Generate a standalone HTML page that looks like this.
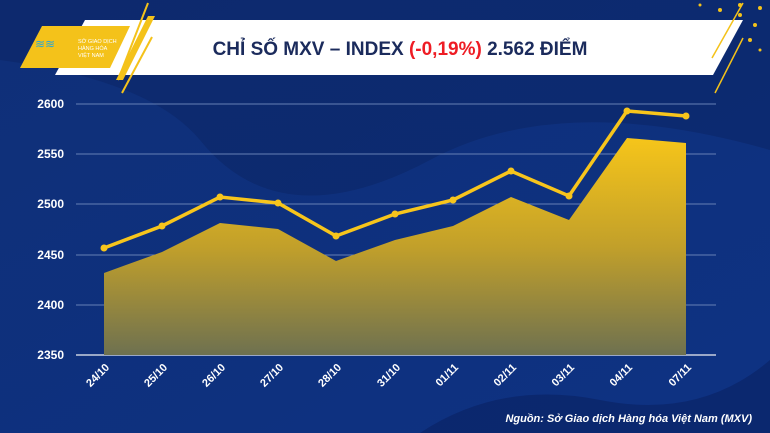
<!DOCTYPE html><html><head><meta charset="utf-8"><style>body{margin:0}svg{display:block}text{font-family:"Liberation Sans",sans-serif}</style></head><body>
<svg width="770" height="433" viewBox="0 0 770 433">
<defs><linearGradient id="bg" x1="0" y1="0" x2="1" y2="1"><stop offset="0" stop-color="#0f2f78"/><stop offset="1" stop-color="#0e3283"/></linearGradient>
<linearGradient id="ar" x1="0" y1="0" x2="0" y2="1"><stop offset="0" stop-color="#f6c51a"/><stop offset="0.5" stop-color="#c2a02a"/><stop offset="1" stop-color="#6e7150"/></linearGradient></defs>
<rect width="770" height="433" fill="url(#bg)"/>
<path d="M0 60 Q150 80 200 140 Q280 240 430 160 Q560 90 770 150 L770 0 L0 0Z" fill="#0b2668" opacity="0.6"/>
<path d="M420 433 Q500 380 600 400 Q700 420 770 360 L770 433Z" fill="#0a2466" opacity="0.7"/>
<g fill="#f4c21a"><circle cx="700" cy="5" r="1.5"/><circle cx="720" cy="10" r="2"/><circle cx="740" cy="15" r="2"/><circle cx="755" cy="25" r="2"/><circle cx="750" cy="40" r="2"/><circle cx="760" cy="50" r="1.5"/><circle cx="740" cy="5" r="2"/><circle cx="760" cy="8" r="2"/></g>
<polygon points="85,20 743,20 713,75 55,75" fill="#fff"/>
<polygon points="42,26 130,26 110,68 20,68" fill="#f4c21a"/>
<line x1="148" y1="3" x2="118" y2="80" stroke="#f4c21a" stroke-width="2"/>
<polygon points="148,16 155,16 123,80 116,80" fill="#f4c21a"/>
<line x1="152" y1="37" x2="122" y2="93" stroke="#f4c21a" stroke-width="2"/>
<line x1="743" y1="3" x2="712" y2="58" stroke="#f4c21a" stroke-width="1.5"/>
<line x1="743" y1="38" x2="715" y2="93" stroke="#f4c21a" stroke-width="1.5"/>
<text x="35" y="48" font-size="12" fill="#2aa6d8">≋≋</text>
<text x="78" y="43" font-size="5.5" fill="#fff">SỞ GIAO DỊCH</text><text x="78" y="50" font-size="5.5" fill="#fff">HÀNG HÓA</text><text x="78" y="57" font-size="5.5" fill="#fff">VIỆT NAM</text>
<text x="400" y="55" font-size="19" font-weight="bold" fill="#1b2b5c" text-anchor="middle">CHỈ SỐ MXV – INDEX <tspan fill="#ee1c24">(-0,19%)</tspan> 2.562 ĐIỂM</text>
<g stroke="#6680b5" stroke-width="1"><line x1="76" y1="104" x2="716" y2="104"/><line x1="76" y1="154" x2="716" y2="154"/><line x1="76" y1="204" x2="716" y2="204"/><line x1="76" y1="255" x2="716" y2="255"/><line x1="76" y1="305" x2="716" y2="305"/></g>
<line x1="76" y1="355" x2="716" y2="355" stroke="#c8d0e0" stroke-width="1.5"/>
<g fill="#fff" font-size="12" font-weight="bold" text-anchor="end"><text x="64" y="108">2600</text><text x="64" y="158">2550</text><text x="64" y="208">2500</text><text x="64" y="259">2450</text><text x="64" y="309">2400</text><text x="64" y="359">2350</text></g>
<polygon points="104,355 104,273 162,252 220,223 278,229 336,261 395,240 453,226 511,197 569,220 627,138 686,143 686,355" fill="url(#ar)"/>
<polyline points="104,248 162,226 220,197 278,203 336,236 395,214 453,200 511,171 569,196 627,111 686,116" fill="none" stroke="#f7c51c" stroke-width="3.5"/>
<g fill="#f7c51c"><circle cx="104" cy="248" r="3.5"/><circle cx="162" cy="226" r="3.5"/><circle cx="220" cy="197" r="3.5"/><circle cx="278" cy="203" r="3.5"/><circle cx="336" cy="236" r="3.5"/><circle cx="395" cy="214" r="3.5"/><circle cx="453" cy="200" r="3.5"/><circle cx="511" cy="171" r="3.5"/><circle cx="569" cy="196" r="3.5"/><circle cx="627" cy="111" r="3.5"/><circle cx="686" cy="116" r="3.5"/></g>
<g fill="#fff" font-size="11" font-weight="bold" text-anchor="end">
<text transform="translate(110,368) rotate(-45)">24/10</text><text transform="translate(168,368) rotate(-45)">25/10</text><text transform="translate(226,368) rotate(-45)">26/10</text><text transform="translate(284,368) rotate(-45)">27/10</text><text transform="translate(342,368) rotate(-45)">28/10</text><text transform="translate(401,368) rotate(-45)">31/10</text><text transform="translate(459,368) rotate(-45)">01/11</text><text transform="translate(517,368) rotate(-45)">02/11</text><text transform="translate(575,368) rotate(-45)">03/11</text><text transform="translate(633,368) rotate(-45)">04/11</text><text transform="translate(692,368) rotate(-45)">07/11</text></g>
<text x="752" y="422" font-size="11" font-weight="bold" font-style="italic" fill="#fff" text-anchor="end">Nguồn: Sở Giao dịch Hàng hóa Việt Nam (MXV)</text>
</svg></body></html>
